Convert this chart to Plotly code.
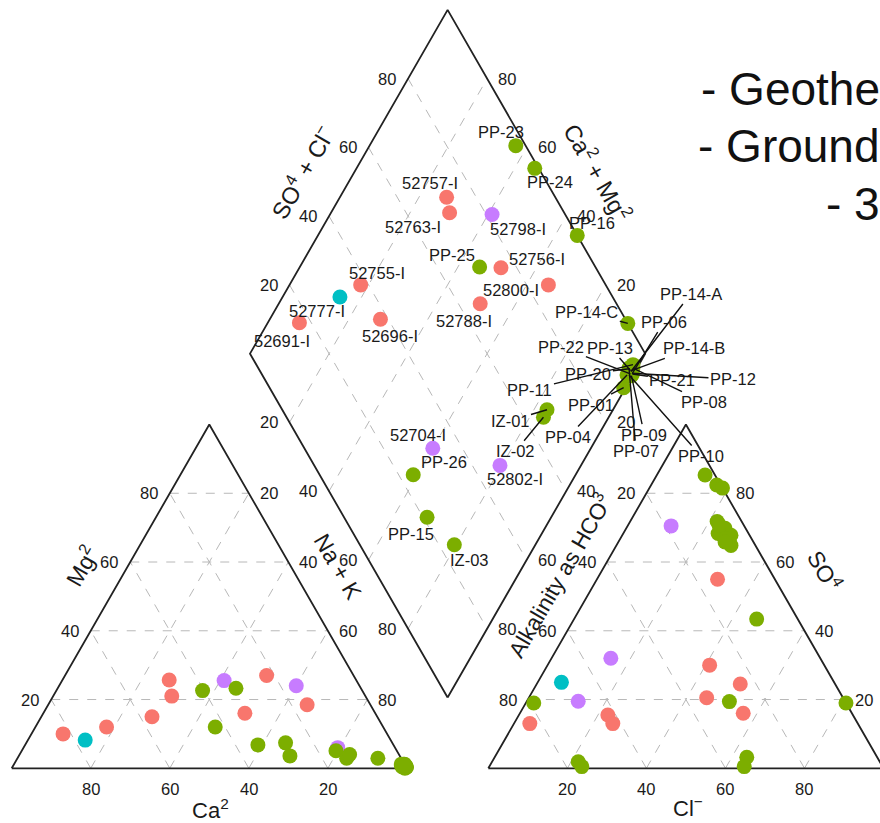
import math
import plotly.graph_objects as go

# ---------------- data (percent of meq) ----------------
samples = ["52691-I", "52755-I", "52696-I", "52757-I", "52763-I", "52756-I", "52788-I", "52800-I",
           "52777-I",
           "52798-I", "52704-I", "52802-I",
           "PP-23", "PP-24", "PP-25", "PP-16", "PP-14-C", "PP-26", "PP-15", "IZ-03", "IZ-01", "IZ-02",
           "PP-14-A", "PP-06", "PP-13", "PP-14-B", "PP-22", "PP-20", "PP-21", "PP-12", "PP-08",
           "PP-11", "PP-01", "PP-04", "PP-09", "PP-07", "PP-10"]
groups = ["I"] * 8 + ["C"] + ["P"] * 3 + ["G"] * 25
ca = [82, 70, 57, 47.3, 49, 33, 22, 16,
      77.3,
      33.5, 16, 14.5,
      40.4, 31.6, 42.5, 27, 5.9, 34.3, 27.8, 15.4, 13.8, 12.5,
      0.3, 0, 0.5, 0, 0.4, 1, 0, 0.5, 0.7, 1, 0, 0.3, 0, 0.8, 0.2]
mg = [10, 12, 15, 25.7, 21, 16, 27, 18.5,
      8.2,
      25.5, 24, 6,
      22.6, 23.3, 12, 7.4, 2.9, 6.8, 3.6, 5.1, 2.9, 4.0,
      0.7, 0.4, 0.8, 1.2, 0.4, 0.8, 0.3, 0, 0.3, 0.5, 0.5, 1.2, 0.3, 1.2, 0.8]
nak = [8, 18, 28, 27, 30, 51, 51, 65.5,
       14.5,
       41, 60, 79.5,
       37, 45.1, 45.5, 65.6, 91.2, 58.9, 68.6, 79.5, 83.3, 83.5,
       99, 99.6, 98.7, 98.8, 99.2, 98.2, 99.7, 99.5, 99, 98.5, 99.5, 98.5, 99.7, 98, 99]
hco3 = [83, 62, 62, 27.5, 29, 24, 34.5, 14.5,
        69,
        18.5, 67.5, 53,
        2.5, 1.0, 29.3, 0, 0, 76.3, 79, 76.1, 33, 35,
        6.2, 6.2, 6.2, 6.2, 6.7, 6.2, 6.2, 6.2, 5.2, 4.7, 10.4, 7.7, 6.7, 6.2, 7.2]
so4 = [13, 15.5, 13, 16, 30, 24.5, 20.5, 55,
       25,
       70.5, 19.5, 32,
       85.3, 82.4, 19.4, 81.5, 19, 1.9, 19, 0.5, 3.2, 0.5,
       71.8, 70.3, 69.3, 68.8, 67.3, 66.3, 65.3, 64.8, 69.8, 67.8, 43.4, 68.3, 66.8, 70.8, 65.8]
cl = [4, 22.5, 25, 56.5, 41, 51.5, 45, 30.5,
      6,
      11, 13, 15,
      12.2, 16.6, 51.3, 18.5, 81, 21.8, 2, 23.4, 63.8, 64.5,
      22, 23.5, 24.5, 25, 26, 27.5, 28.5, 29, 25, 27.5, 46.2, 24, 26.5, 23, 27]

tick_values = [20, 40, 60, 80]

# ---------------- styling / layout helpers ----------------
colors = {"I": "#F8766D", "G": "#7CAE00", "C": "#00BFC4", "P": "#C77CFF"}
draw_order = ["I", "C", "P", "G"]
FONT = "Liberation Sans, Arial, sans-serif"
TXT = "#1a1a1a"
H = math.sqrt(3) / 2
GAP = 20.6
W, HT = 880, 823
XR = [-2.961, 219.71]
YR = [-13.78, 193.53]

# label offsets (pixels; dx right, dy down, segment?)
label_style = {
    "52691-I": (-17, 18, False), "52755-I": (16, -12, False), "52696-I": (10, 17, False),
    "52757-I": (-17, -14, False), "52763-I": (-37, 14, False), "52756-I": (36, -9, False),
    "52788-I": (-16, 17, False), "52800-I": (-37, 5, False), "52777-I": (-23, 14, False),
    "52798-I": (26, 15, False), "52704-I": (-15, -13, False), "52802-I": (15, 14, False),
    "PP-23": (-15, -14, False), "PP-24": (15, 14, False), "PP-25": (-28, -12, False),
    "PP-16": (15, -12, False), "PP-14-C": (-41, -11, True), "PP-26": (31, -13, False),
    "PP-15": (-16, 17, False), "IZ-03": (15, 15, False), "IZ-01": (-37, 11, True),
    "IZ-02": (-28, 34, True),
    "PP-14-A": (60, -78, True), "PP-06": (32, -52, True), "PP-13": (-20, -23, True),
    "PP-14-B": (63, -23, True), "PP-22": (-69, -27, True), "PP-20": (-41, 5, True),
    "PP-21": (40, 6, True), "PP-12": (101, 6, True), "PP-08": (71, 34, True),
    "PP-11": (-103, 25, True), "PP-01": (-33, 17, True), "PP-04": (-59, 62, True),
    "PP-09": (13, 59, True), "PP-07": (7, 83, True), "PP-10": (72, 81, True),
}


def cation_xy(c, m, n):
    s = c + m + n
    m, n = m / s, n / s
    return 100 * (n + m / 2), 100 * H * m


def anion_xy(h, s4, c):
    s = h + s4 + c
    s4, c = s4 / s, c / s
    return 100 + GAP + 100 * (c + s4 / 2), 100 * H * s4


BX, BY = 100 + GAP / 2, GAP * H


def diamond_xy(a, b):
    return BX + 50 * (b - (1 - a)), BY + 100 * H * ((1 - a) + b)


fig = go.Figure()

# grid lines
gx, gy = [], []
for v in tick_values:
    f = v / 100
    # left triangle
    for p, q in [((50 * f, 100 * H * f), (100 - 50 * f, 100 * H * f)),
                 ((100 * f, 0), (100 * f + (1 - f) * 50, (1 - f) * 100 * H)),
                 (((1 - f) * 100, 0), ((1 - f) * 50, (1 - f) * 100 * H))]:
        gx += [p[0], q[0], None]; gy += [p[1], q[1], None]
    # right triangle
    o = 100 + GAP
    for p, q in [((o + 50 * f, 100 * H * f), (o + 100 - 50 * f, 100 * H * f)),
                 ((o + 100 * f, 0), (o + 100 * f + (1 - f) * 50, (1 - f) * 100 * H)),
                 ((o + (1 - f) * 100, 0), (o + (1 - f) * 50, (1 - f) * 100 * H))]:
        gx += [p[0], q[0], None]; gy += [p[1], q[1], None]
    # diamond
    for p, q in [(diamond_xy(f, 0), diamond_xy(f, 1)), (diamond_xy(0, f), diamond_xy(1, f))]:
        gx += [p[0], q[0], None]; gy += [p[1], q[1], None]
fig.add_trace(go.Scatter(x=gx, y=gy, mode="lines", hoverinfo="skip",
                         line=dict(color="#b8b8b8", width=1, dash="dash"), showlegend=False))

# outlines
ox, oy = [], []
for pts in [[(0, 0), (100, 0), (50, 100 * H), (0, 0)],
            [(100 + GAP, 0), (200 + GAP, 0), (150 + GAP, 100 * H), (100 + GAP, 0)],
            [diamond_xy(1, 0), diamond_xy(0, 0), diamond_xy(0, 1), diamond_xy(1, 1), diamond_xy(1, 0)]]:
    ox += [p[0] for p in pts] + [None]
    oy += [p[1] for p in pts] + [None]
fig.add_trace(go.Scatter(x=ox, y=oy, mode="lines", hoverinfo="skip",
                         line=dict(color="#222222", width=1.8), showlegend=False))

# points
dpos = {}
for g in draw_order:
    xs, ys = [], []
    for i, s in enumerate(samples):
        if groups[i] != g:
            continue
        x1, y1 = cation_xy(ca[i], mg[i], nak[i])
        x2, y2 = anion_xy(hco3[i], so4[i], cl[i])
        a = nak[i] / (ca[i] + mg[i] + nak[i])
        b = (so4[i] + cl[i]) / (hco3[i] + so4[i] + cl[i])
        x3, y3 = diamond_xy(a, b)
        dpos[s] = (x3, y3)
        xs += [x1, x2, x3]; ys += [y1, y2, y3]
    fig.add_trace(go.Scatter(x=xs, y=ys, mode="markers", showlegend=False,
                             marker=dict(size=15, color=colors[g], line=dict(width=0))))

ann = []
LBL = 16.5
# sample labels
for s in samples:
    dx, dy, seg = label_style[s]
    x, y = dpos[s]
    if seg:
        ann.append(dict(x=x, y=y, text=s, showarrow=True, ax=dx, ay=dy, arrowhead=0,
                        arrowwidth=1.4, arrowcolor="#111111", standoff=0,
                        font=dict(family=FONT, size=LBL, color=TXT)))
    else:
        ann.append(dict(x=x, y=y, text=s, showarrow=False, xshift=dx, yshift=-dy,
                        font=dict(family=FONT, size=LBL, color=TXT)))


def tick(x, y, t, xs, ys):
    ann.append(dict(x=x, y=y, text=str(t), showarrow=False, xshift=xs, yshift=ys,
                    font=dict(family=FONT, size=16.5, color=TXT)))


for v in tick_values:
    f = v / 100
    # left triangle
    tick(100 - v, 0, v, 0, -21)                       # Ca
    tick(50 * f, 100 * H * f, v, -21, 0)              # Mg
    tick(100 - 50 * (1 - f), 100 * H * (1 - f), v, 20, 0)  # Na + K
    # right triangle
    o = 100 + GAP
    tick(o + v, 0, v, 0, -21)                         # Cl
    tick(o + 50 * (1 - f), 100 * H * (1 - f), v, -20, 0)  # HCO3
    tick(o + 100 - 50 * f, 100 * H * f, v, 20, 0)     # SO4
    # diamond
    x, y = diamond_xy(0, f); tick(x, y, v, -21, 0)        # SO4 + Cl
    x, y = diamond_xy(1 - f, 1); tick(x, y, v, 20, 0)     # Ca + Mg
    x, y = diamond_xy(f, 0); tick(x, y, v, -21, 0)        # Na + K
    x, y = diamond_xy(1, 1 - f); tick(x, y, v, 20, 0)     # HCO3

# axis titles (pixel positions converted to paper coords)
titles = [("Mg<sup>2</sup>", 81, 566, -60, 23), ("Ca<sup>2</sup>", 210, 809, 0, 22),
          ("Na + K", 338, 567, 60, 23), ("Alkalinity as HCO<sup>3</sup>", 559, 575, -60, 22.5),
          ("SO<sup>4</sup>", 825, 570, 60, 23), ("Cl<sup>−</sup>", 688, 807, 0, 22),
          ("SO<sup>4</sup> + Cl<sup>−</sup>", 302, 172, -60, 23.5),
          ("Ca<sup>2</sup> + Mg<sup>2</sup>", 598, 172, 60, 23.5)]
for t, px, py, ang, sz in titles:
    ann.append(dict(x=px / W, y=1 - py / HT, xref="paper", yref="paper", text=t, showarrow=False,
                    textangle=ang, xanchor="center", yanchor="middle",
                    font=dict(family=FONT, size=sz, color=TXT)))

# slide text on the right
for t, px, py in [("- Geothe", 699, 89), ("- Ground", 696, 146), ("- 3", 824, 204)]:
    ann.append(dict(x=px / W, y=1 - py / HT, xref="paper", yref="paper", text=t, showarrow=False,
                    xanchor="left", yanchor="middle",
                    font=dict(family=FONT, size=46, color="#111111")))

fig.update_layout(
    width=W, height=HT, margin=dict(l=0, r=0, t=0, b=0),
    paper_bgcolor="white", plot_bgcolor="white",
    xaxis=dict(range=XR, visible=False, fixedrange=True),
    yaxis=dict(range=YR, visible=False, fixedrange=True),
    annotations=ann, showlegend=False,
)
fig.write_html("out.html", config={"displayModeBar": False},
               post_script="document.body.style.margin='0';document.body.style.overflow='hidden';")
